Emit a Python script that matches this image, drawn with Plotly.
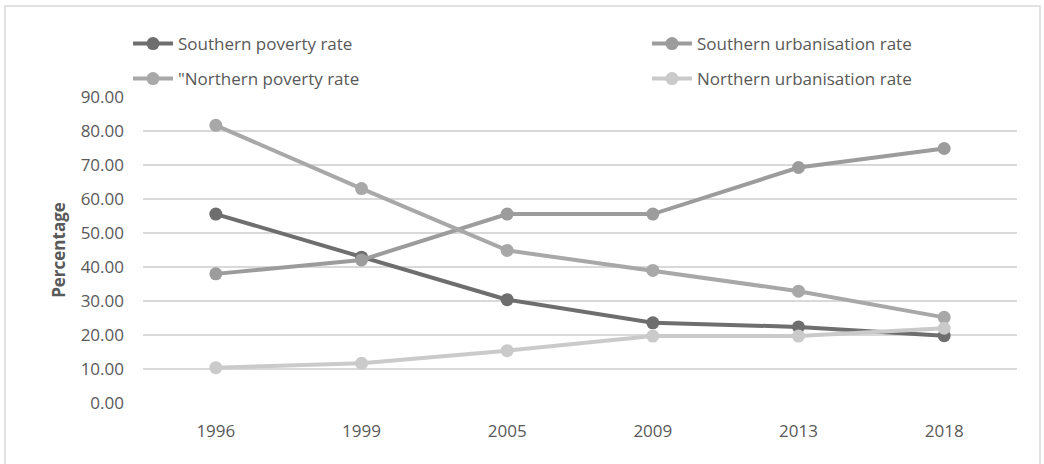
import plotly.graph_objects as go

years = ["1996", "1999", "2005", "2009", "2013", "2018"]
southern_poverty = [55.6, 42.9, 30.4, 23.6, 22.4, 19.8]
southern_urban = [38.0, 42.1, 55.6, 55.6, 69.3, 74.9]
northern_poverty = [81.7, 63.1, 44.9, 39.0, 32.9, 25.2]
northern_urban = [10.4, 11.7, 15.4, 19.7, 19.7, 22.0]
y_ticks = [0, 10, 20, 30, 40, 50, 60, 70, 80, 90]

FONT = "Open Sans"
TXT = "#595959"

# plot area: x 143..1017, y 97..403
PL, PR, PT, PB = 143, 1017, 97, 403
PW, PH = PR - PL, PB - PT

def px_x(x):
    return (x - PL) / PW

def px_y(y):
    return (PB - y) / PH

series = [
    ("Southern poverty rate", southern_poverty, "#6e6e6e", "legend", 128, 44),
    ("Southern urbanisation rate", southern_urban, "#9c9c9c", "legend2", 647, 44),
    ('"Northern poverty rate', northern_poverty, "#a8a8a8", "legend3", 128, 79),
    ("Northern urbanisation rate", northern_urban, "#cacaca", "legend4", 647, 79),
]

fig = go.Figure()
legends = {}
for name, vals, col, leg, lx, ly in series:
    fig.add_trace(go.Scatter(
        x=years, y=vals, name=name, mode="lines+markers",
        line=dict(color=col, width=4),
        marker=dict(color=col, size=13),
        legend=leg,
    ))
    legends[leg] = dict(
        x=px_x(lx), y=px_y(ly), xanchor="left", yanchor="middle",
        orientation="h",
        font=dict(family=FONT, size=17, color=TXT),
        itemwidth=40, bgcolor="rgba(0,0,0,0)",
    )

fig.update_layout(
    width=1044, height=464,
    margin=dict(l=PL, r=1044 - PR, t=PT, b=464 - PB),
    paper_bgcolor="white", plot_bgcolor="white",
    font=dict(family=FONT, color=TXT, size=17),
    showlegend=True,
    xaxis=dict(
        type="category", range=[-0.5, 5.5], showgrid=False, showline=False,
        ticks="", tickfont=dict(family=FONT, size=17, color=TXT),
        ticklabelstandoff=16,
    ),
    yaxis=dict(
        range=[0, 90.05], tickvals=y_ticks,
        ticktext=[f"{v:.2f}" for v in y_ticks],
        showgrid=True, gridcolor="#d9d9d9", gridwidth=1.5,
        zeroline=False, showline=False, ticks="",
        tickfont=dict(family=FONT, size=17, color=TXT),
        ticklabelstandoff=18,
        title=dict(text="<b>Percentage</b>", font=dict(family=FONT, size=17, color=TXT), standoff=10),
    ),
    shapes=[dict(
        type="rect", xref="paper", yref="paper",
        x0=px_x(5), x1=px_x(1040),
        y0=px_y(470), y1=px_y(6),
        line=dict(color="#d9d9d9", width=1.5), fillcolor="rgba(0,0,0,0)", layer="below",
    )],
    **legends,
)

fig.write_html("out.html")
